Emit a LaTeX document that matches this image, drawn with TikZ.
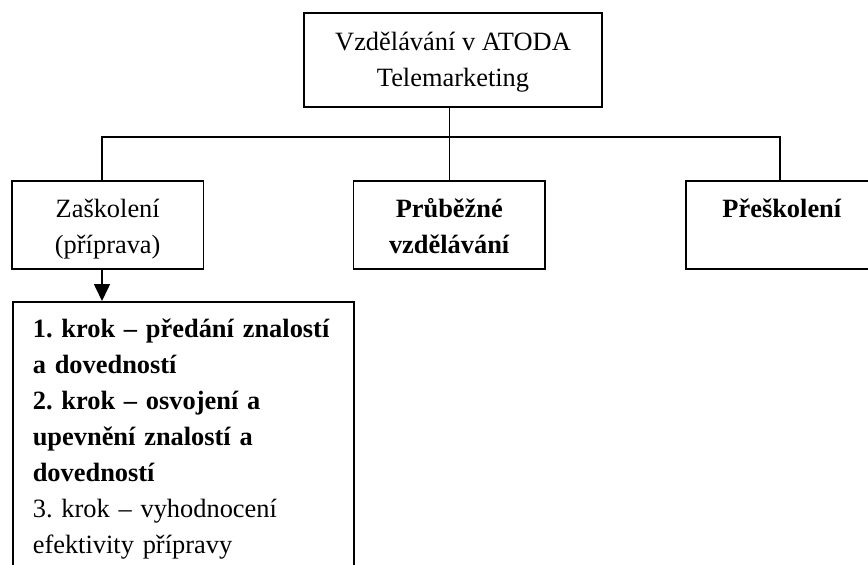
\documentclass[tikz,border=0pt]{standalone}
\usepackage{fontspec}
\setmainfont{Liberation Serif}
\usepackage{tikz}
\usetikzlibrary{arrows.meta, positioning}

\tikzset{
  orgbox/.style={draw, line width=1.6pt, align=center, inner sep=0pt, font=\fontsize{26.4}{36}\selectfont\frenchspacing},
  headbox/.style={orgbox, minimum width=298pt, minimum height=94pt, text height=59.4pt, text depth=6pt},
  unitbox/.style={orgbox, minimum width=191.5pt, minimum height=88pt, text height=62pt, text depth=6pt},
  stepsbox/.style={orgbox, anchor=north west, align=left, text width=301pt, inner xsep=20pt, inner ysep=17pt},
  link/.style={line width=1.6pt},
}

\begin{document}
\begin{tikzpicture}[x=1pt, y=-1pt]
  \useasboundingbox (0,0) rectangle (868,565);
  \clip (0,0) rectangle (868,565);

  \node[headbox] (top) at (453,60) {Vzdělávání v ATODA\\Telemarketing};
  \node[unitbox] (zask) at (107.7,225) {Zaškolení\\(příprava)};
  \node[unitbox] (mid) at (449.3,225) {\textbf{Průběžné}\\\textbf{vzdělávání}};
  \node[unitbox] (pres) at (782,225) {\textbf{Přeškolení}\\\mbox{}};
  \node[stepsbox] (steps) at (12,301) {
    \textbf{1. krok – předání znalostí}\\
    \textbf{a dovedností}\\
    \textbf{2. krok – osvojení a}\\
    \textbf{upevnění znalostí a}\\
    \textbf{dovedností}\\
    3. krok – vyhodnocení\\
    efektivity přípravy
  };

  \coordinate (busL) at (102,137);
  \coordinate (busR) at (780,137);

  \draw[link] (top.south -| mid.north) -- (mid.north);
  \draw[link] (zask.north -| busL) -- (busL) -- (busR) -- (busR |- pres.north);
  \draw[link, -{Triangle[width=16pt, length=17pt]}] (zask.south -| busL) -- (busL |- steps.north);
\end{tikzpicture}
\end{document}
